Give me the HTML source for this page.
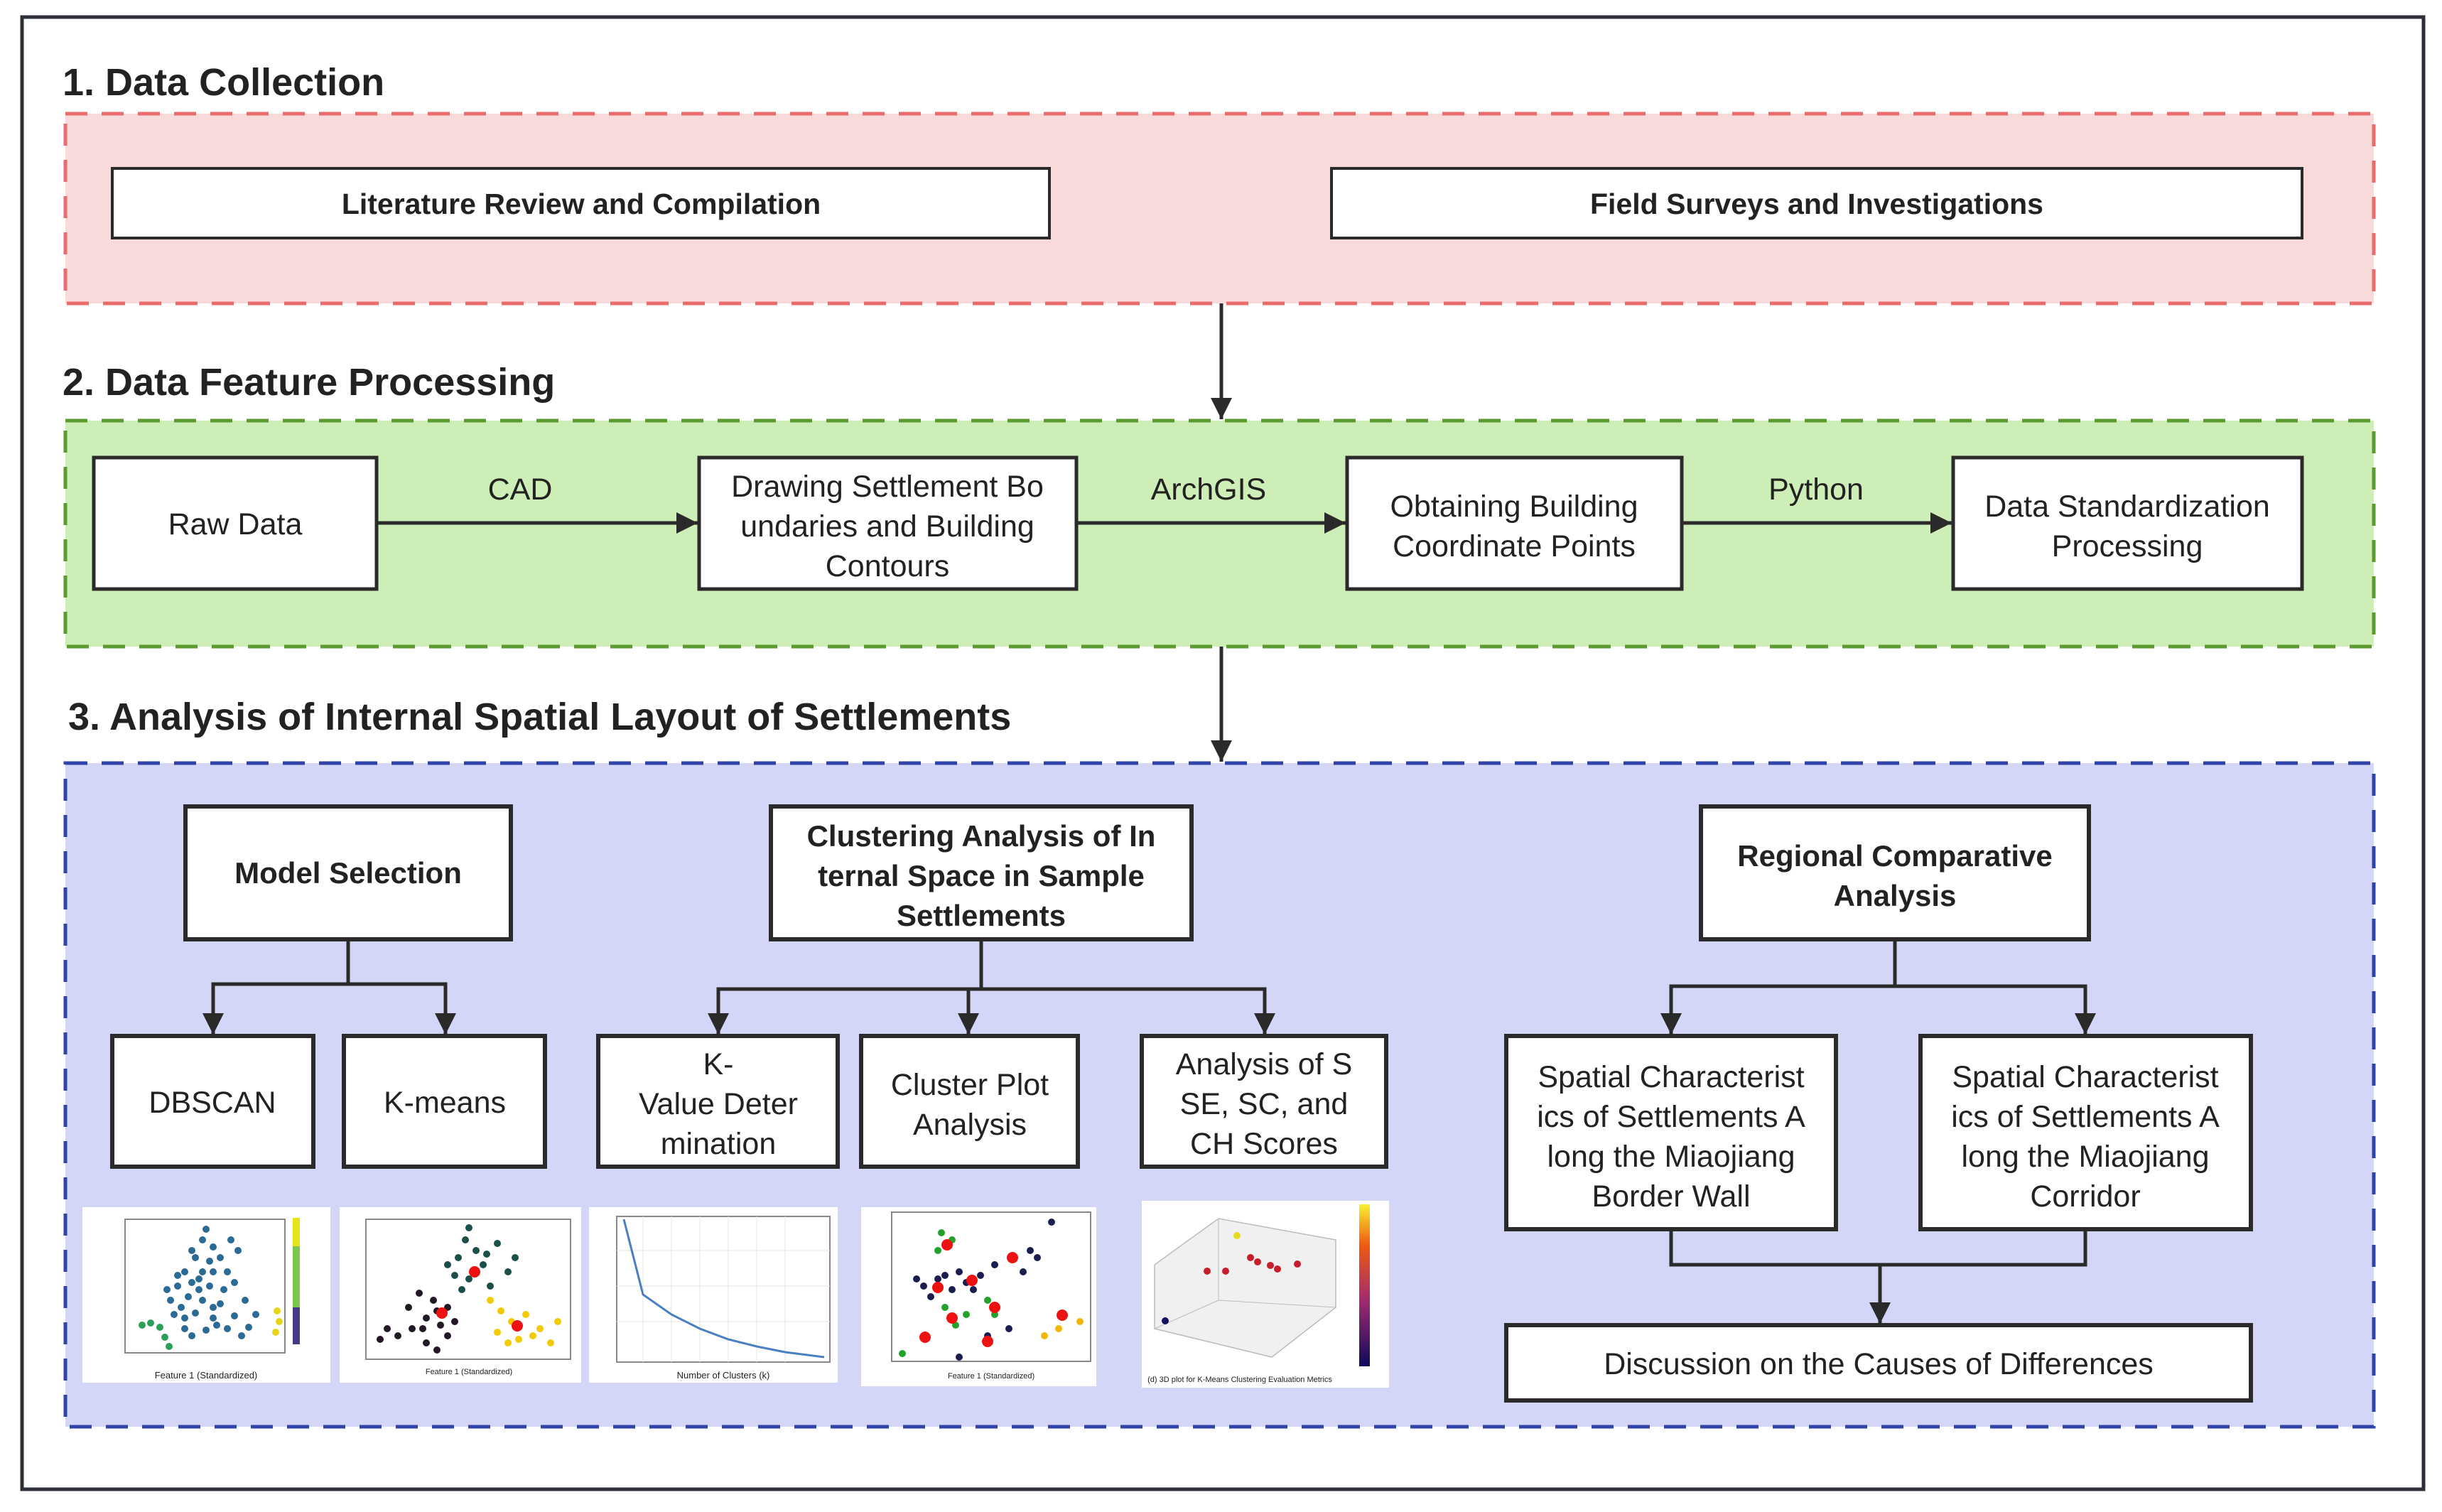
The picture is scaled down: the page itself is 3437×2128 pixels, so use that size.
<!DOCTYPE html>
<html><head><meta charset="utf-8"><style>
html,body{margin:0;padding:0;background:#fff}
svg{display:block}
.t{font-family:"Liberation Sans",sans-serif;fill:#222}
.b{font-weight:bold}
</style></head><body>
<svg width="3437" height="2128" viewBox="0 0 3437 2128" xmlns="http://www.w3.org/2000/svg">
<defs>
<marker id="ah" viewBox="0 0 10 10" refX="10" refY="5" markerWidth="7.5" markerHeight="6" markerUnits="strokeWidth" orient="auto"><path d="M0,0 L10,5 L0,10 z" fill="#2a2a2a"/></marker>
</defs>
<rect x="0" y="0" width="3437" height="2128" fill="#fff"/>
<rect x="31" y="24" width="3380" height="2072" fill="none" stroke="#2b2f36" stroke-width="5"/>

<!-- Section 1 -->
<text class="t b" x="88" y="134" font-size="54">1. Data Collection</text>
<rect x="92" y="160" width="3249" height="267" fill="#f9dada" stroke="#e96b6b" stroke-width="5" stroke-dasharray="31,20"/>
<rect x="158" y="237" width="1319" height="98" fill="#fff" stroke="#2a2a2a" stroke-width="4"/>
<text class="t b" x="818" y="301" font-size="41" text-anchor="middle">Literature Review and Compilation</text>
<rect x="1874" y="237" width="1366" height="98" fill="#fff" stroke="#2a2a2a" stroke-width="4"/>
<text class="t b" x="2557" y="301" font-size="41" text-anchor="middle">Field Surveys and Investigations</text>
<line x1="1719" y1="427" x2="1719" y2="590" stroke="#2a2a2a" stroke-width="5" marker-end="url(#ah)"/>

<!-- Section 2 -->
<text class="t b" x="88" y="556" font-size="54">2. Data Feature Processing</text>
<rect x="92" y="592" width="3249" height="318" fill="#cdeeb6" stroke="#5a9a2e" stroke-width="5" stroke-dasharray="31,20"/>
<g stroke="#2a2a2a" stroke-width="5" fill="#fff">
<rect x="132" y="644" width="398" height="185"/>
<rect x="984" y="644" width="531" height="185"/>
<rect x="1896" y="644" width="471" height="185"/>
<rect x="2749" y="644" width="491" height="185"/>
</g>
<g class="t" font-size="43" text-anchor="middle">
<text x="331" y="752">Raw Data</text>
<text x="1249" y="699">Drawing Settlement Bo</text>
<text x="1249" y="755">undaries and Building</text>
<text x="1249" y="811">Contours</text>
<text x="2131" y="727">Obtaining Building</text>
<text x="2131" y="783">Coordinate Points</text>
<text x="2994" y="727">Data Standardization</text>
<text x="2994" y="783">Processing</text>
<text x="732" y="703">CAD</text>
<text x="1701" y="703">ArchGIS</text>
<text x="2556" y="703">Python</text>
</g>
<g stroke="#2a2a2a" stroke-width="5" marker-end="url(#ah)">
<line x1="530" y1="736" x2="982" y2="736"/>
<line x1="1515" y1="736" x2="1894" y2="736"/>
<line x1="2367" y1="736" x2="2747" y2="736"/>
<line x1="1719" y1="910" x2="1719" y2="1072"/>
</g>

<!-- Section 3 -->
<text class="t b" x="96" y="1027" font-size="54">3. Analysis of Internal Spatial Layout of Settlements</text>
<rect x="92" y="1074" width="3249" height="934" fill="#d4d6f7" stroke="#2f43a8" stroke-width="5" stroke-dasharray="31,20"/>

<g stroke="#2a2a2a" stroke-width="6" fill="#fff">
<rect x="261" y="1135" width="458" height="187"/>
<rect x="1085" y="1135" width="592" height="187"/>
<rect x="2394" y="1135" width="546" height="187"/>
<rect x="158" y="1458" width="283" height="184"/>
<rect x="484" y="1458" width="283" height="184"/>
<rect x="842" y="1458" width="337" height="184"/>
<rect x="1212" y="1458" width="305" height="184"/>
<rect x="1607" y="1458" width="344" height="184"/>
<rect x="2120" y="1458" width="464" height="272"/>
<rect x="2703" y="1458" width="465" height="272"/>
<rect x="2120" y="1865" width="1048" height="106"/>
</g>
<g class="t b" font-size="42" text-anchor="middle">
<text x="490" y="1243">Model Selection</text>
<text x="1381" y="1191">Clustering Analysis of In</text>
<text x="1381" y="1247">ternal Space in Sample</text>
<text x="1381" y="1303">Settlements</text>
<text x="2667" y="1219">Regional Comparative</text>
<text x="2667" y="1275">Analysis</text>
</g>
<g class="t" font-size="43" text-anchor="middle">
<text x="299" y="1566">DBSCAN</text>
<text x="626" y="1566">K-means</text>
<text x="1011" y="1512">K-</text>
<text x="1011" y="1568">Value Deter</text>
<text x="1011" y="1624">mination</text>
<text x="1365" y="1541">Cluster Plot</text>
<text x="1365" y="1597">Analysis</text>
<text x="1779" y="1512">Analysis of S</text>
<text x="1779" y="1568">SE, SC, and</text>
<text x="1779" y="1624">CH Scores</text>
<text x="2352" y="1530">Spatial Characterist</text>
<text x="2352" y="1586">ics of Settlements A</text>
<text x="2352" y="1642">long the Miaojiang</text>
<text x="2352" y="1698">Border Wall</text>
<text x="2935" y="1530">Spatial Characterist</text>
<text x="2935" y="1586">ics of Settlements A</text>
<text x="2935" y="1642">long the Miaojiang</text>
<text x="2935" y="1698">Corridor</text>
<text x="2644" y="1934">Discussion on the Causes of Differences</text>
</g>

<g stroke="#2a2a2a" stroke-width="5" fill="none">
<polyline points="490,1322 490,1385"/>
<polyline points="300,1456 300,1385 627,1385 627,1456"/>
<polyline points="1381,1322 1381,1392"/>
<polyline points="1011,1456 1011,1392 1780,1392 1780,1456"/>
<polyline points="2667,1322 2667,1388"/>
<polyline points="2352,1456 2352,1388 2935,1388 2935,1456"/>
<polyline points="2352,1730 2352,1780 2935,1780 2935,1730"/>
</g>
<g stroke="#2a2a2a" stroke-width="5" marker-end="url(#ah)">
<line x1="300" y1="1400" x2="300" y2="1456"/>
<line x1="627" y1="1400" x2="627" y2="1456"/>
<line x1="1011" y1="1400" x2="1011" y2="1456"/>
<line x1="1363" y1="1392" x2="1363" y2="1456"/>
<line x1="1780" y1="1400" x2="1780" y2="1456"/>
<line x1="2352" y1="1400" x2="2352" y2="1456"/>
<line x1="2935" y1="1400" x2="2935" y2="1456"/>
<line x1="2646" y1="1780" x2="2646" y2="1863"/>
</g>

<!-- Plot 1 -->
<g>
<rect x="116" y="1699" width="349" height="247" fill="#fff"/>
<rect x="176" y="1716" width="225" height="188" fill="none" stroke="#888" stroke-width="2"/>
<rect x="412" y="1714" width="10" height="178" fill="#7ac74f"/>
<rect x="412" y="1714" width="10" height="40" fill="#e6e419"/>
<rect x="412" y="1840" width="10" height="52" fill="#443a83"/>
<g fill="#2b6a94">
<circle cx="290" cy="1730" r="5"/><circle cx="285" cy="1745" r="5"/><circle cx="300" cy="1755" r="5"/><circle cx="275" cy="1770" r="5"/><circle cx="310" cy="1770" r="5"/><circle cx="260" cy="1790" r="5"/><circle cx="285" cy="1790" r="5"/><circle cx="320" cy="1790" r="5"/><circle cx="250" cy="1810" r="5"/><circle cx="270" cy="1805" r="5"/><circle cx="295" cy="1810" r="5"/><circle cx="330" cy="1805" r="5"/><circle cx="240" cy="1830" r="5"/><circle cx="265" cy="1825" r="5"/><circle cx="285" cy="1830" r="5"/><circle cx="310" cy="1835" r="5"/><circle cx="345" cy="1830" r="5"/><circle cx="245" cy="1850" r="5"/><circle cx="275" cy="1848" r="5"/><circle cx="300" cy="1855" r="5"/><circle cx="330" cy="1852" r="5"/><circle cx="360" cy="1850" r="5"/><circle cx="260" cy="1870" r="5"/><circle cx="290" cy="1872" r="5"/><circle cx="320" cy="1870" r="5"/><circle cx="350" cy="1868" r="5"/><circle cx="300" cy="1790" r="5"/><circle cx="255" cy="1840" r="5"/><circle cx="335" cy="1760" r="5"/><circle cx="280" cy="1815" r="5"/>
<circle cx="270" cy="1760" r="5"/><circle cx="295" cy="1775" r="5"/><circle cx="315" cy="1815" r="5"/><circle cx="260" cy="1855" r="5"/><circle cx="305" cy="1865" r="5"/><circle cx="340" cy="1880" r="5"/><circle cx="270" cy="1880" r="5"/><circle cx="235" cy="1815" r="5"/><circle cx="325" cy="1745" r="5"/><circle cx="280" cy="1800" r="5"/><circle cx="300" cy="1840" r="5"/><circle cx="250" cy="1795" r="5"/>
</g>
<g fill="#2aa05a"><circle cx="200" cy="1865" r="5"/><circle cx="212" cy="1862" r="5"/><circle cx="225" cy="1868" r="5"/><circle cx="232" cy="1882" r="5"/><circle cx="238" cy="1895" r="5"/></g>
<g fill="#e6d619"><circle cx="390" cy="1845" r="5"/><circle cx="393" cy="1860" r="5"/><circle cx="388" cy="1875" r="5"/></g>
<text class="t" x="290" y="1940" font-size="13" text-anchor="middle">Feature 1 (Standardized)</text>
</g>
<!-- Plot 2 -->
<g>
<rect x="478" y="1699" width="340" height="247" fill="#fff"/>
<rect x="515" y="1716" width="288" height="197" fill="none" stroke="#888" stroke-width="2"/>
<g fill="#1c4f4a"><circle cx="660" cy="1728" r="5"/><circle cx="655" cy="1745" r="5"/><circle cx="670" cy="1760" r="5"/><circle cx="645" cy="1770" r="5"/><circle cx="680" cy="1780" r="5"/><circle cx="700" cy="1750" r="5"/><circle cx="715" cy="1790" r="5"/><circle cx="640" cy="1795" r="5"/><circle cx="660" cy="1800" r="5"/><circle cx="690" cy="1810" r="5"/><circle cx="630" cy="1780" r="5"/><circle cx="685" cy="1765" r="5"/><circle cx="725" cy="1770" r="5"/><circle cx="650" cy="1815" r="5"/></g>
<g fill="#231826"><circle cx="590" cy="1820" r="5"/><circle cx="610" cy="1830" r="5"/><circle cx="630" cy="1840" r="5"/><circle cx="600" cy="1855" r="5"/><circle cx="620" cy="1865" r="5"/><circle cx="640" cy="1860" r="5"/><circle cx="580" cy="1870" r="5"/><circle cx="560" cy="1880" r="5"/><circle cx="545" cy="1870" r="5"/><circle cx="600" cy="1890" r="5"/><circle cx="630" cy="1880" r="5"/><circle cx="535" cy="1885" r="5"/><circle cx="615" cy="1845" r="5"/><circle cx="595" cy="1870" r="5"/><circle cx="575" cy="1840" r="5"/><circle cx="615" cy="1900" r="5"/></g>
<g fill="#f2cb05"><circle cx="690" cy="1830" r="5"/><circle cx="705" cy="1845" r="5"/><circle cx="720" cy="1860" r="5"/><circle cx="740" cy="1850" r="5"/><circle cx="760" cy="1870" r="5"/><circle cx="700" cy="1875" r="5"/><circle cx="730" cy="1885" r="5"/><circle cx="785" cy="1860" r="5"/><circle cx="775" cy="1890" r="5"/><circle cx="750" cy="1880" r="5"/><circle cx="715" cy="1890" r="5"/></g>
<g fill="#e11"><circle cx="668" cy="1790" r="8"/><circle cx="622" cy="1848" r="8"/><circle cx="728" cy="1866" r="8"/></g>
<text class="t" x="660" y="1934" font-size="11" text-anchor="middle">Feature 1 (Standardized)</text>
</g>
<!-- Plot 3 -->
<g>
<rect x="829" y="1699" width="350" height="247" fill="#fff"/>
<rect x="868" y="1712" width="300" height="205" fill="none" stroke="#888" stroke-width="2"/>
<g stroke="#e4e4e4" stroke-width="1"><line x1="905" y1="1712" x2="905" y2="1917"/><line x1="945" y1="1712" x2="945" y2="1917"/><line x1="985" y1="1712" x2="985" y2="1917"/><line x1="1025" y1="1712" x2="1025" y2="1917"/><line x1="1065" y1="1712" x2="1065" y2="1917"/><line x1="1105" y1="1712" x2="1105" y2="1917"/><line x1="868" y1="1760" x2="1168" y2="1760"/><line x1="868" y1="1810" x2="1168" y2="1810"/><line x1="868" y1="1860" x2="1168" y2="1860"/></g>
<polyline points="878,1716 905,1822 945,1850 985,1870 1025,1885 1065,1895 1105,1903 1160,1910" fill="none" stroke="#4a7fc1" stroke-width="3"/>
<text class="t" x="1018" y="1940" font-size="13" text-anchor="middle">Number of Clusters (k)</text>
</g>
<!-- Plot 4 -->
<g>
<rect x="1212" y="1699" width="331" height="252" fill="#fff"/>
<rect x="1255" y="1706" width="280" height="210" fill="none" stroke="#888" stroke-width="2"/>
<g fill="#1a1e4e"><circle cx="1300" cy="1810" r="5"/><circle cx="1320" cy="1800" r="5"/><circle cx="1340" cy="1815" r="5"/><circle cx="1360" cy="1805" r="5"/><circle cx="1380" cy="1795" r="5"/><circle cx="1310" cy="1825" r="5"/><circle cx="1350" cy="1790" r="5"/><circle cx="1400" cy="1780" r="5"/><circle cx="1440" cy="1790" r="5"/><circle cx="1460" cy="1770" r="5"/><circle cx="1390" cy="1880" r="5"/><circle cx="1420" cy="1870" r="5"/><circle cx="1350" cy="1910" r="5"/><circle cx="1480" cy="1720" r="5"/><circle cx="1330" cy="1795" r="5"/><circle cx="1370" cy="1815" r="5"/><circle cx="1290" cy="1800" r="5"/><circle cx="1450" cy="1760" r="5"/></g>
<g fill="#22a22a"><circle cx="1325" cy="1735" r="5"/><circle cx="1340" cy="1745" r="5"/><circle cx="1330" cy="1840" r="5"/><circle cx="1360" cy="1850" r="5"/><circle cx="1390" cy="1830" r="5"/><circle cx="1400" cy="1850" r="5"/><circle cx="1270" cy="1905" r="5"/><circle cx="1320" cy="1760" r="5"/><circle cx="1345" cy="1865" r="5"/></g>
<g fill="#f2b705"><circle cx="1470" cy="1880" r="5"/><circle cx="1490" cy="1870" r="5"/><circle cx="1520" cy="1860" r="5"/></g>
<g fill="#e11"><circle cx="1333" cy="1752" r="8"/><circle cx="1425" cy="1770" r="8"/><circle cx="1368" cy="1802" r="8"/><circle cx="1320" cy="1812" r="8"/><circle cx="1400" cy="1840" r="8"/><circle cx="1340" cy="1855" r="8"/><circle cx="1390" cy="1888" r="8"/><circle cx="1302" cy="1882" r="8"/><circle cx="1495" cy="1851" r="8"/></g>
<text class="t" x="1395" y="1940" font-size="11" text-anchor="middle">Feature 1 (Standardized)</text>
</g>
<!-- Plot 5 -->
<g>
<rect x="1607" y="1690" width="348" height="263" fill="#fff"/>
<polygon points="1625,1780 1715,1715 1880,1745 1880,1840 1790,1910 1625,1870" fill="#f0f0f0" stroke="#bbb" stroke-width="1.5"/>
<line x1="1715" y1="1715" x2="1715" y2="1830" stroke="#bbb"/>
<line x1="1715" y1="1830" x2="1880" y2="1840" stroke="#bbb"/>
<line x1="1715" y1="1830" x2="1625" y2="1870" stroke="#bbb"/>
<defs><linearGradient id="cb" x1="0" y1="1" x2="0" y2="0"><stop offset="0" stop-color="#0c0a5a"/><stop offset="0.4" stop-color="#a02a70"/><stop offset="0.75" stop-color="#f05a10"/><stop offset="1" stop-color="#f8f030"/></linearGradient></defs>
<rect x="1913" y="1695" width="15" height="228" fill="url(#cb)"/>
<g fill="#c81e2a"><circle cx="1760" cy="1770" r="5"/><circle cx="1770" cy="1776" r="5"/><circle cx="1788" cy="1781" r="5"/><circle cx="1798" cy="1786" r="5"/><circle cx="1826" cy="1779" r="5"/><circle cx="1725" cy="1789" r="5"/><circle cx="1699" cy="1789" r="5"/></g>
<circle cx="1741" cy="1739" r="5" fill="#e8d820"/>
<circle cx="1640" cy="1859" r="5" fill="#121060"/>
<text class="t" x="1745" y="1945" font-size="11" text-anchor="middle">(d) 3D plot for K-Means Clustering Evaluation Metrics</text>
</g>
</svg>
</body></html>
